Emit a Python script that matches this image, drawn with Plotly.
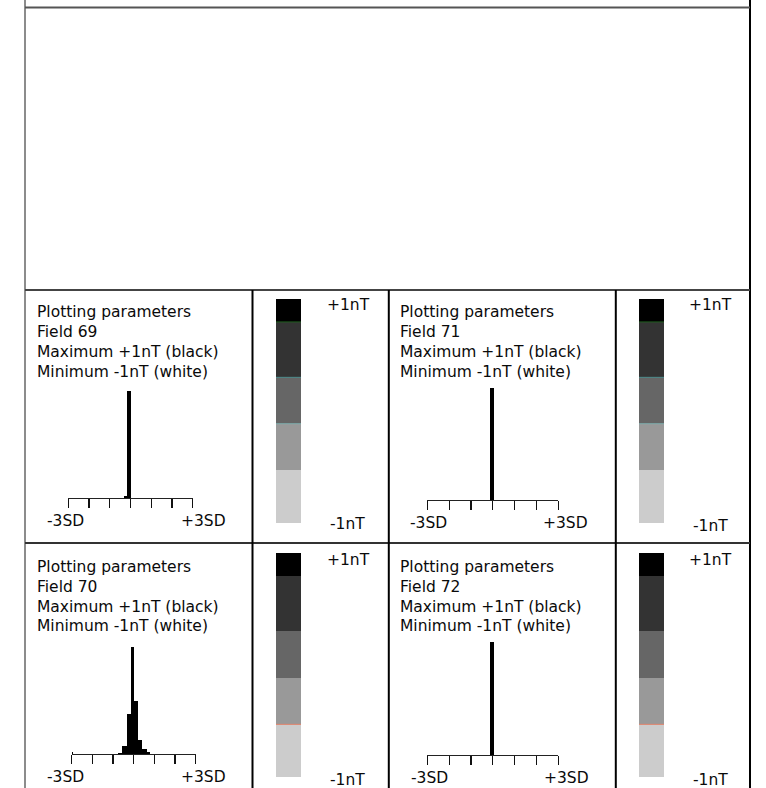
import plotly.graph_objects as go

W, H = 766, 788

# ---------------- data ----------------
field_names = ["69", "71", "70", "72"]   # row1-left, row1-right, row2-left, row2-right

# histogram bins: centres (in SD), widths (in SD), heights (relative counts)
hist69_x = [-0.233, -0.065]
hist69_w = [0.16, 0.178]
hist69_y = [2.7, 107.6]

hist71_x = [-0.044]
hist71_w = [0.168]
hist71_y = [112.3]

hist70_x = [-2.96, -0.65, -0.445, -0.235, -0.051, 0.126, 0.319, 0.522, 0.709]
hist70_w = [0.08, 0.19, 0.21, 0.21, 0.16, 0.19, 0.19, 0.21, 0.16]
hist70_y = [2.5, 1.3, 7.7, 40.0, 107.0, 52.7, 14.0, 5.0, 1.7]

hist72_x = [-0.044]
hist72_w = [0.168]
hist72_y = [113.0]

sd_ticks = [-3, -2, -1, 0, 1, 2, 3]
sd_labels = ["-3SD", "+3SD"]

scale_colors = ["#cccccc", "#999999", "#666666", "#333333", "#000000"]
scale_shares = [53.0, 46.5, 46.5, 55.5, 23.0]
scale_labels = ["+1nT", "-1nT"]

param_lines = ["Plotting parameters", "Field {}", "Maximum +1nT (black)", "Minimum -1nT (white)"]

hists = [(hist69_x, hist69_w, hist69_y), (hist71_x, hist71_w, hist71_y),
         (hist70_x, hist70_w, hist70_y), (hist72_x, hist72_w, hist72_y)]

# ---------------- layout geometry (pixels) ----------------
panels = [
    dict(tx=35, ty=[312, 332, 352, 372], hx=[68.3, 192.7], hb=498.3,
         ly=520.5, lx=[65.8, 203.3], cx=[276, 301], cy=[299, 523],
         p1=(348.3, 305), m1=(347.5, 523.8), seps=[(201.5, "#1f5f1f"), (146.0, "#4a8a8a"), (99.5, "#80b0b0")]),
    dict(tx=398, ty=[311.7, 332, 352, 371.7], hx=[427.3, 558.3], hb=500,
         ly=523, lx=[428.3, 565.5], cx=[639, 664], cy=[299, 523],
         p1=(710.8, 305), m1=(710.8, 525.5), seps=[(201.5, "#1f5f1f"), (146.0, "#4a8a8a"), (99.5, "#80b0b0")]),
    dict(tx=35.3, ty=[566.7, 586.7, 606.7, 626], hx=[71.7, 195.7], hb=754,
         ly=777, lx=[65.8, 203.3], cx=[276, 301], cy=[553, 777.3],
         p1=(348, 560), m1=(347.5, 780), seps=[(53.0, "#e08068")]),
    dict(tx=398, ty=[566.7, 586.7, 606.7, 626], hx=[427.3, 558.3], hb=755,
         ly=777.5, lx=[429.2, 566], cx=[639, 664], cy=[553, 777.3],
         p1=(710.5, 560), m1=(710.5, 779.5), seps=[(53.0, "#e08068")]),
]


def px(x):
    return x / W


def py(y):
    return 1 - y / H


FONT = dict(family="DejaVu Sans, Verdana, sans-serif", size=15.5, color="#0a0a0a")

fig = go.Figure()
layout = dict(width=W, height=H, margin=dict(l=0, r=0, t=0, b=0),
              paper_bgcolor="white", plot_bgcolor="rgba(0,0,0,0)",
              showlegend=False, barmode="overlay", bargap=0)
annotations = []
shapes = []

total = sum(scale_shares)
bases = [sum(scale_shares[:i]) for i in range(len(scale_shares))]

for i, (p, (hx, hw, hy), name) in enumerate(zip(panels, hists, field_names)):
    kh = 2 * i + 1
    kc = 2 * i + 2
    # histogram
    fig.add_trace(go.Bar(x=hx, y=hy, width=hw, marker=dict(color="black", line=dict(width=0)),
                         xaxis=f"x{kh}", yaxis=f"y{kh}", hoverinfo="skip"))
    layout[f"xaxis{kh}"] = dict(domain=[px(p["hx"][0]), px(p["hx"][1])], range=[-3, 3],
                                anchor=f"y{kh}", showline=True, linecolor="#222", linewidth=1,
                                ticks="outside", ticklen=9, tickwidth=1.2, tickcolor="#111",
                                tickvals=sd_ticks, showticklabels=False, showgrid=False,
                                zeroline=False, fixedrange=True)
    layout[f"yaxis{kh}"] = dict(domain=[py(p["hb"]), py(p["hb"] - 122)], range=[0, 122],
                                anchor=f"x{kh}", visible=False, fixedrange=True)
    # grey scale bar
    fig.add_trace(go.Bar(x=[0] * len(scale_shares), y=scale_shares, base=bases, width=1,
                         marker=dict(color=scale_colors, line=dict(width=0)),
                         xaxis=f"x{kc}", yaxis=f"y{kc}", hoverinfo="skip"))
    layout[f"xaxis{kc}"] = dict(domain=[px(p["cx"][0]), px(p["cx"][1])], range=[-0.5, 0.5],
                                anchor=f"y{kc}", visible=False, fixedrange=True)
    layout[f"yaxis{kc}"] = dict(domain=[py(p["cy"][1]), py(p["cy"][0])], range=[0, total],
                                anchor=f"x{kc}", visible=False, fixedrange=True)
    for (yv, col) in p["seps"]:
        shapes.append(dict(type="line", xref=f"x{kc} domain", yref=f"y{kc}",
                           x0=0, x1=1, y0=yv, y1=yv, line=dict(color=col, width=1)))
    # text block
    for j, line in enumerate(param_lines):
        annotations.append(dict(text=line.format(name), x=px(p["tx"]), y=py(p["ty"][j]),
                                xref="paper", yref="paper", xanchor="left", yanchor="middle",
                                showarrow=False, font=FONT))
    # SD labels
    for lab, lx in zip(sd_labels, p["lx"]):
        annotations.append(dict(text=lab, x=px(lx), y=py(p["ly"]), xref="paper", yref="paper",
                                xanchor="center", yanchor="middle", showarrow=False, font=FONT))
    # scale labels
    for lab, (lx, ly) in zip(scale_labels, [p["p1"], p["m1"]]):
        annotations.append(dict(text=lab, x=px(lx), y=py(ly), xref="paper", yref="paper",
                                xanchor="center", yanchor="middle", showarrow=False, font=FONT))


def hline(y, x0, x1, color, width):
    shapes.append(dict(type="line", xref="paper", yref="paper", x0=px(x0), x1=px(x1),
                       y0=py(y), y1=py(y), line=dict(color=color, width=width)))


def vline(x, y0, y1, color, width):
    shapes.append(dict(type="line", xref="paper", yref="paper", x0=px(x), x1=px(x),
                       y0=py(y0), y1=py(y1), line=dict(color=color, width=width)))


vline(25, 0, H, "#666666", 1.5)
vline(750, 0, H, "#000000", 2)
hline(7.5, 25, 750, "#555555", 2)
hline(290, 25, 750, "#444444", 2)
hline(543, 25, 750, "#333333", 2)
for xv in [252.5, 388.8, 615.8]:
    vline(xv, 290, H, "#000000", 2)

layout["annotations"] = annotations
layout["shapes"] = shapes
fig.update_layout(**layout)

fig.write_html("out.html", config={"displayModeBar": False, "staticPlot": True},
               post_script="document.body.style.margin='0';document.body.style.overflow='hidden';")
